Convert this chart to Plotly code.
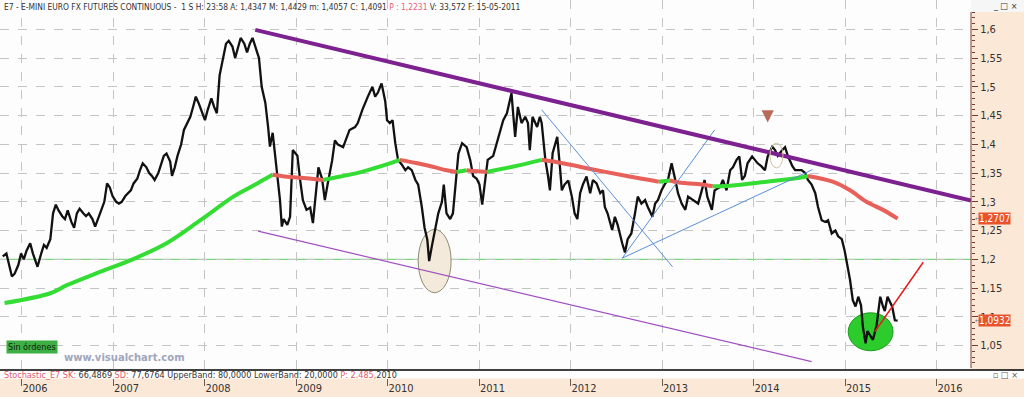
import plotly.graph_objects as go

# ---------------- data (decimal years, EUR/USD futures weekly) ----------------
price_t = [2005.79, 2005.83, 2005.86, 2005.89, 2005.92, 2005.96, 2005.99, 2006.02, 2006.05, 2006.09,
           2006.12, 2006.15, 2006.17, 2006.21, 2006.24, 2006.27, 2006.31, 2006.34, 2006.37, 2006.40,
           2006.44, 2006.47, 2006.50, 2006.54, 2006.57, 2006.60, 2006.63, 2006.67, 2006.70, 2006.73,
           2006.77, 2006.80, 2006.83, 2006.86, 2006.90, 2006.93, 2006.96, 2006.99, 2007.03, 2007.06,
           2007.09, 2007.13, 2007.16, 2007.19, 2007.22, 2007.26, 2007.29, 2007.32, 2007.36, 2007.39,
           2007.42, 2007.45, 2007.49, 2007.52, 2007.55, 2007.58, 2007.62, 2007.64, 2007.67, 2007.70,
           2007.74, 2007.77, 2007.80, 2007.84, 2007.87, 2007.90, 2007.93, 2007.97, 2008.00, 2008.03,
           2008.07, 2008.10, 2008.13, 2008.16, 2008.20, 2008.23, 2008.26, 2008.30, 2008.33, 2008.36,
           2008.39, 2008.43, 2008.46, 2008.49, 2008.52, 2008.56, 2008.59,
           2008.62, 2008.66, 2008.69, 2008.71, 2008.74, 2008.77, 2008.79, 2008.82, 2008.84, 2008.86,
           2008.90, 2008.93, 2008.96, 2009.01, 2009.04, 2009.07, 2009.11, 2009.15, 2009.18, 2009.22,
           2009.24, 2009.28, 2009.31, 2009.34, 2009.39, 2009.42, 2009.45, 2009.51, 2009.55, 2009.58,
           2009.64, 2009.67, 2009.72, 2009.75, 2009.78, 2009.83, 2009.86, 2009.89, 2009.93, 2009.97,
           2009.99, 2010.02, 2010.05, 2010.08, 2010.11, 2010.15, 2010.19, 2010.22, 2010.26, 2010.30,
           2010.33, 2010.37, 2010.40, 2010.43, 2010.45, 2010.48, 2010.51, 2010.55, 2010.59, 2010.61,
           2010.64, 2010.68, 2010.71, 2010.73, 2010.77, 2010.81, 2010.86, 2010.90, 2010.93, 2010.97,
           2011.00, 2011.03,
           2011.06, 2011.09, 2011.15, 2011.19, 2011.22, 2011.26, 2011.30, 2011.33, 2011.35, 2011.37,
           2011.39, 2011.42, 2011.46, 2011.50, 2011.53, 2011.55, 2011.58, 2011.63, 2011.66, 2011.68,
           2011.72, 2011.75, 2011.77, 2011.80, 2011.85, 2011.88, 2011.90, 2011.93, 2011.97, 2012.01,
           2012.04, 2012.07, 2012.10, 2012.13, 2012.17, 2012.21, 2012.24, 2012.28, 2012.32, 2012.35,
           2012.37, 2012.40, 2012.45, 2012.48, 2012.51, 2012.56, 2012.59, 2012.62, 2012.66, 2012.70,
           2012.73, 2012.77, 2012.81, 2012.84, 2012.89, 2012.92, 2012.95, 2012.99, 2013.03, 2013.06,
           2013.10, 2013.14, 2013.17, 2013.21, 2013.25, 2013.28, 2013.33, 2013.39, 2013.43, 2013.46,
           2013.49, 2013.54, 2013.57, 2013.63, 2013.66, 2013.70, 2013.74, 2013.77, 2013.81, 2013.84,
           2013.87, 2013.90, 2013.93, 2013.98, 2014.01, 2014.04, 2014.08, 2014.12, 2014.15, 2014.20,
           2014.23, 2014.26, 2014.31, 2014.34, 2014.37, 2014.42, 2014.45, 2014.48, 2014.52, 2014.56,
           2014.59, 2014.63, 2014.67, 2014.70, 2014.74, 2014.78, 2014.81, 2014.85, 2014.89, 2014.92,
           2014.96, 2014.99, 2015.01, 2015.05, 2015.08, 2015.11, 2015.14, 2015.17, 2015.19, 2015.22,
           2015.24, 2015.28, 2015.30, 2015.34, 2015.38, 2015.41, 2015.43, 2015.46, 2015.51, 2015.54,
           2015.57]
price_v = [1.205, 1.21, 1.19, 1.17, 1.175, 1.19, 1.21, 1.20, 1.215, 1.228,
           1.21, 1.195, 1.187, 1.21, 1.225, 1.22, 1.235, 1.28, 1.295, 1.285,
           1.275, 1.27, 1.285, 1.265, 1.255, 1.28, 1.288, 1.28, 1.275, 1.28,
           1.27, 1.257, 1.27, 1.285, 1.30, 1.332, 1.325, 1.31, 1.30, 1.297,
           1.30, 1.31, 1.315, 1.32, 1.332, 1.34, 1.355, 1.367, 1.36, 1.35,
           1.345, 1.338, 1.35, 1.365, 1.38, 1.384, 1.37, 1.345, 1.36, 1.38,
           1.40, 1.425, 1.435, 1.448, 1.465, 1.483, 1.472, 1.455, 1.442, 1.46,
           1.48, 1.465, 1.454, 1.52, 1.555, 1.575, 1.58, 1.57, 1.55, 1.57,
           1.585, 1.575, 1.56, 1.575, 1.585, 1.565, 1.55,
           1.50, 1.472, 1.43, 1.396, 1.42, 1.378, 1.355, 1.303, 1.257, 1.27,
           1.26, 1.274, 1.39, 1.38, 1.338, 1.303, 1.286, 1.29, 1.263, 1.33,
           1.36, 1.34, 1.303, 1.33, 1.372, 1.407, 1.40, 1.395, 1.413, 1.425,
           1.43, 1.437, 1.46, 1.472, 1.483, 1.50, 1.483, 1.49, 1.506, 1.475,
           1.442, 1.437, 1.442, 1.402, 1.373, 1.365, 1.355, 1.36, 1.355, 1.338,
           1.33, 1.291, 1.255, 1.234, 1.197, 1.223, 1.245, 1.28, 1.30, 1.33,
           1.28, 1.27, 1.28, 1.315, 1.384, 1.402, 1.395, 1.372, 1.345, 1.34,
           1.33, 1.295,
           1.33, 1.373, 1.38, 1.402, 1.419, 1.442, 1.454, 1.477, 1.489, 1.45,
           1.413, 1.465, 1.437, 1.448, 1.437, 1.39, 1.448, 1.43, 1.448, 1.437,
           1.373, 1.344, 1.32, 1.385, 1.413, 1.36, 1.32, 1.33, 1.337, 1.309,
           1.28, 1.27, 1.315, 1.33, 1.344, 1.315, 1.338, 1.332, 1.315, 1.32,
           1.291, 1.28, 1.251, 1.274, 1.26, 1.228, 1.212, 1.235, 1.245, 1.28,
           1.309, 1.297, 1.303, 1.291, 1.274, 1.297, 1.303, 1.32, 1.332, 1.338,
           1.367, 1.338, 1.315, 1.297, 1.286, 1.309, 1.303, 1.297, 1.32, 1.338,
           1.309, 1.286, 1.32, 1.326, 1.338, 1.32, 1.355, 1.36, 1.373, 1.379,
           1.338, 1.345, 1.367, 1.379, 1.373, 1.367, 1.362, 1.355, 1.379, 1.396,
           1.39, 1.38, 1.39, 1.395, 1.38, 1.362, 1.355, 1.355, 1.355, 1.35,
           1.338, 1.33, 1.315, 1.291, 1.268, 1.265, 1.268, 1.245, 1.25, 1.24,
           1.235, 1.216, 1.20, 1.164, 1.129, 1.118, 1.135, 1.12, 1.083, 1.054,
           1.075, 1.064, 1.06, 1.085, 1.135, 1.118, 1.11, 1.135, 1.118, 1.094,
           1.0932]

# moving average
ma_t = [2005.81, 2006.31, 2006.49, 2006.85, 2007.21, 2007.58, 2007.95, 2008.31, 2008.49, 2008.57,
        2008.66, 2008.74, 2008.93, 2009.11, 2009.29, 2009.48, 2009.66, 2009.84, 2010.02, 2010.13,
        2010.32, 2010.49, 2010.64, 2010.75, 2010.86, 2010.97, 2011.08, 2011.36, 2011.68, 2011.91,
        2012.28, 2012.64, 2012.96, 2013.08, 2013.20, 2013.38, 2013.55, 2013.74, 2014.14, 2014.50,
        2014.59, 2014.86, 2015.05, 2015.23, 2015.41, 2015.57]
ma_v = [1.124, 1.141, 1.155, 1.178, 1.20, 1.228, 1.268, 1.309, 1.325, 1.332,
        1.34, 1.347, 1.343, 1.341, 1.338, 1.344, 1.35, 1.358, 1.367, 1.373,
        1.367, 1.361, 1.355, 1.352, 1.355, 1.353, 1.352, 1.361, 1.373, 1.367,
        1.355, 1.344, 1.335, 1.337, 1.333, 1.331, 1.327, 1.328, 1.335, 1.342,
        1.345, 1.335, 1.32, 1.30, 1.286, 1.2707]

# drawn lines: (t0, v0, t1, v1)
resistance = [2008.55, 1.599, 2016.372, 1.3024]
channel_low = [2008.58, 1.249, 2014.63, 1.022]
blue_lines = [[2012.56, 1.202, 2013.57, 1.425],
              [2012.56, 1.202, 2014.64, 1.356],
              [2011.68, 1.460, 2013.11, 1.187]]
red_line = [2015.32, 1.074, 2015.85, 1.195]
support_level = 1.20
beige_ellipse = [2010.33, 1.142, 2010.69, 1.252]
green_ellipse = [2015.03, 1.041, 2015.52, 1.107]
small_ellipse = [2014.175, 1.359, 2014.317, 1.402]
arrow_mark = [2014.15, 1.438]

last_ma = 1.2707
last_close = 1.0932

y_ticks = [1.05, 1.1, 1.15, 1.2, 1.25, 1.3, 1.35, 1.4, 1.45, 1.5, 1.55, 1.6]
y_tick_text = ["1,05", "1,1", "1,15", "1,2", "1,25", "1,3", "1,35", "1,4", "1,45", "1,5", "1,55", "1,6"]
y_minor = [round(1.02 + 0.01 * i, 2) for i in range(63)]
years = list(range(2006, 2017))
year_labels = [str(y) for y in years]

header = ("E7 - E-MINI EURO FX FUTURES CONTINUOUS -  1 S H: 23:58 A: 1,4347 M: 1,4429 m: 1,4057 C: 1,4091 "
          "<span style='color:#e8607a'>P : 1,2231</span> V: 33,572 F: 15-05-2011")
stoch = ("<span style='color:#e05a6a'>Stochastic_E7 SK:</span> 66,4869 "
         "<span style='color:#e05a6a'>SD:</span> 77,6764 UpperBand: 80,0000 LowerBand: 20,0000 "
         "<span style='color:#e05a6a'>P: 2.485,</span>2010")

# ---------------- styling ----------------
FONT = "Liberation Sans Narrow, DejaVu Sans Condensed, Arial Narrow, Liberation Sans, sans-serif"
W, H = 1024, 397
ML, MR, MT, MB = 0, 53, 0, 19
PW, PH = W - ML - MR, H - MT - MB
XR = [2005.760, 2016.372]
YR = [0.9936, 1.651]
AXIS_BROWN = "#7a3b2e"
PEACH = "#fce8d6"

def py(px):  # pixel from top -> paper y
    return (PH - px) / PH

XR_PAPER = W / PW

fig = go.Figure()

# price
fig.add_trace(go.Scatter(x=price_t, y=price_v, mode="lines",
                         line=dict(color="#111111", width=2.3), hoverinfo="skip"))

# moving average coloured by slope
segs = []
cur = None
for i in range(len(ma_t) - 1):
    c = "#33dd33" if ma_v[i + 1] >= ma_v[i] else "#e8605a"
    if c != cur:
        segs.append([c, [ma_t[i]], [ma_v[i]]])
        cur = c
    segs[-1][1].append(ma_t[i + 1])
    segs[-1][2].append(ma_v[i + 1])
for c, xs, ys in segs:
    fig.add_trace(go.Scatter(x=xs, y=ys, mode="lines", line=dict(color=c, width=4, shape="spline"),
                             hoverinfo="skip"))

def seg(vals, color, width):
    fig.add_trace(go.Scatter(x=[vals[0], vals[2]], y=[vals[1], vals[3]], mode="lines",
                             line=dict(color=color, width=width), hoverinfo="skip"))

seg(channel_low, "#a050c0", 1.2)
for b in blue_lines:
    seg(b, "#5a8ed8", 1)
seg(red_line, "#e02020", 1.5)
seg(resistance, "#7d2090", 4)

shapes = [
    dict(type="circle", xref="x", yref="y", layer="between",
         x0=beige_ellipse[0], x1=beige_ellipse[2], y0=beige_ellipse[1], y1=beige_ellipse[3],
         fillcolor="#f4eadb", line=dict(color="#8a8a70", width=1)),
    dict(type="circle", xref="x", yref="y", layer="between",
         x0=green_ellipse[0], x1=green_ellipse[2], y0=green_ellipse[1], y1=green_ellipse[3],
         fillcolor="#2ccc2c", line=dict(color="#1a9a1a", width=1)),
    dict(type="circle", xref="x", yref="y", layer="above",
         x0=small_ellipse[0], x1=small_ellipse[2], y0=small_ellipse[1], y1=small_ellipse[3],
         line=dict(color="#d0c4a0", width=1)),
    dict(type="line", xref="paper", yref="y", layer="between", x0=0, x1=1,
         y0=support_level, y1=support_level, line=dict(color="#5fcf5f", width=1)),
    # stochastic strip
    dict(type="rect", xref="paper", yref="paper", layer="above", x0=0, x1=XR_PAPER,
         y0=py(PH) - 0.001, y1=py(370), fillcolor="#ffffff", line=dict(width=0)),
    dict(type="line", xref="paper", yref="paper", layer="above", x0=0, x1=XR_PAPER,
         y0=py(370), y1=py(370), line=dict(color="#000000", width=1.5)),
    # top-right corner
    dict(type="rect", xref="paper", yref="paper", layer="above", x0=1, x1=XR_PAPER,
         y0=py(12), y1=1, fillcolor="#f6f6f6", line=dict(width=0)),
    # right axis line
    dict(type="line", xref="paper", yref="paper", layer="above", x0=1, x1=1,
         y0=py(368), y1=py(12), line=dict(color=AXIS_BROWN, width=1)),
]

annotations = [
    dict(text=header, xref="paper", yref="paper", x=0.002, y=1, xanchor="left", yanchor="top",
         showarrow=False, font=dict(family=FONT, size=8.4, color="#333333")),
    dict(text=stoch, xref="paper", yref="paper", x=0.002, y=py(374.5), xanchor="left", yanchor="middle",
         showarrow=False, font=dict(family=FONT, size=9, color="#333333")),
    dict(text="Sin órdenes", xref="paper", yref="paper", x=6 / PW, y=py(347), xanchor="left",
         yanchor="middle", showarrow=False, bgcolor="#3cb043", borderpad=1,
         font=dict(family=FONT, size=9, color="#102010")),
    dict(text="<b>www.visualchart.com</b>", xref="paper", yref="paper", x=124 / PW, y=py(357),
         xanchor="center", yanchor="middle", showarrow=False,
         font=dict(family="DejaVu Sans, Verdana, sans-serif", size=10, color="#a0a6bc")),
    dict(text="_ □ ×", xref="paper", yref="paper", x=1020 / PW, y=py(6), xanchor="right",
         yanchor="middle", showarrow=False, font=dict(family=FONT, size=9, color="#333333")),
    dict(text="▫ □ ×", xref="paper", yref="paper", x=1020 / PW, y=py(374.5), xanchor="right",
         yanchor="middle", showarrow=False, font=dict(family=FONT, size=9, color="#555555")),
    # brown down-arrow mark
    dict(text="", x=arrow_mark[0], y=arrow_mark[1], xref="x", yref="y", showarrow=True,
         arrowhead=2, arrowsize=0.7, arrowwidth=3.5, arrowcolor="#b86a5a", ax=0, ay=-9,
         standoff=0),
]
for v in (last_ma, last_close):
    annotations.append(dict(text=f"{v:.4f}".replace(".", ","), xref="paper", yref="y", x=978 / PW, y=v,
                            xanchor="left", yanchor="middle", showarrow=False, bgcolor="#e8532b",
                            borderpad=0, font=dict(family=FONT, size=10, color="#ffffff")))
    annotations.append(dict(text="←", xref="paper", yref="y", x=973 / PW, y=v, xanchor="left",
                            yanchor="middle", showarrow=False,
                            font=dict(family=FONT, size=7, color="#777777")))

fig.update_layout(
    width=W, height=H, margin=dict(l=ML, r=MR, t=MT, b=MB, pad=0),
    paper_bgcolor=PEACH, plot_bgcolor="#fdfdfd", showlegend=False,
    shapes=shapes, annotations=annotations,
    xaxis=dict(range=XR, tickmode="array", tickvals=years, ticktext=year_labels,
               ticks="outside", ticklen=7, tickcolor="#6b5a50", ticklabelposition="outside right",
               tickfont=dict(family=FONT, size=11, color="#333333"),
               showgrid=True, gridcolor="#c4c4c4", griddash="dash", gridwidth=1,
               zeroline=False, showline=False, fixedrange=True),
    yaxis=dict(range=YR, side="right", tickmode="array", tickvals=y_ticks, ticktext=y_tick_text,
               ticks="outside", ticklen=6, tickcolor=AXIS_BROWN,
               tickfont=dict(family=FONT, size=11, color="#333333"),
               minor=dict(tickmode="array", tickvals=y_minor, ticks="outside", ticklen=3,
                          tickcolor=AXIS_BROWN, showgrid=False),
               showgrid=True, gridcolor="#c4c4c4", griddash="dash", gridwidth=1,
               zeroline=False, showline=False, fixedrange=True),
)

fig.write_html("out.html")
